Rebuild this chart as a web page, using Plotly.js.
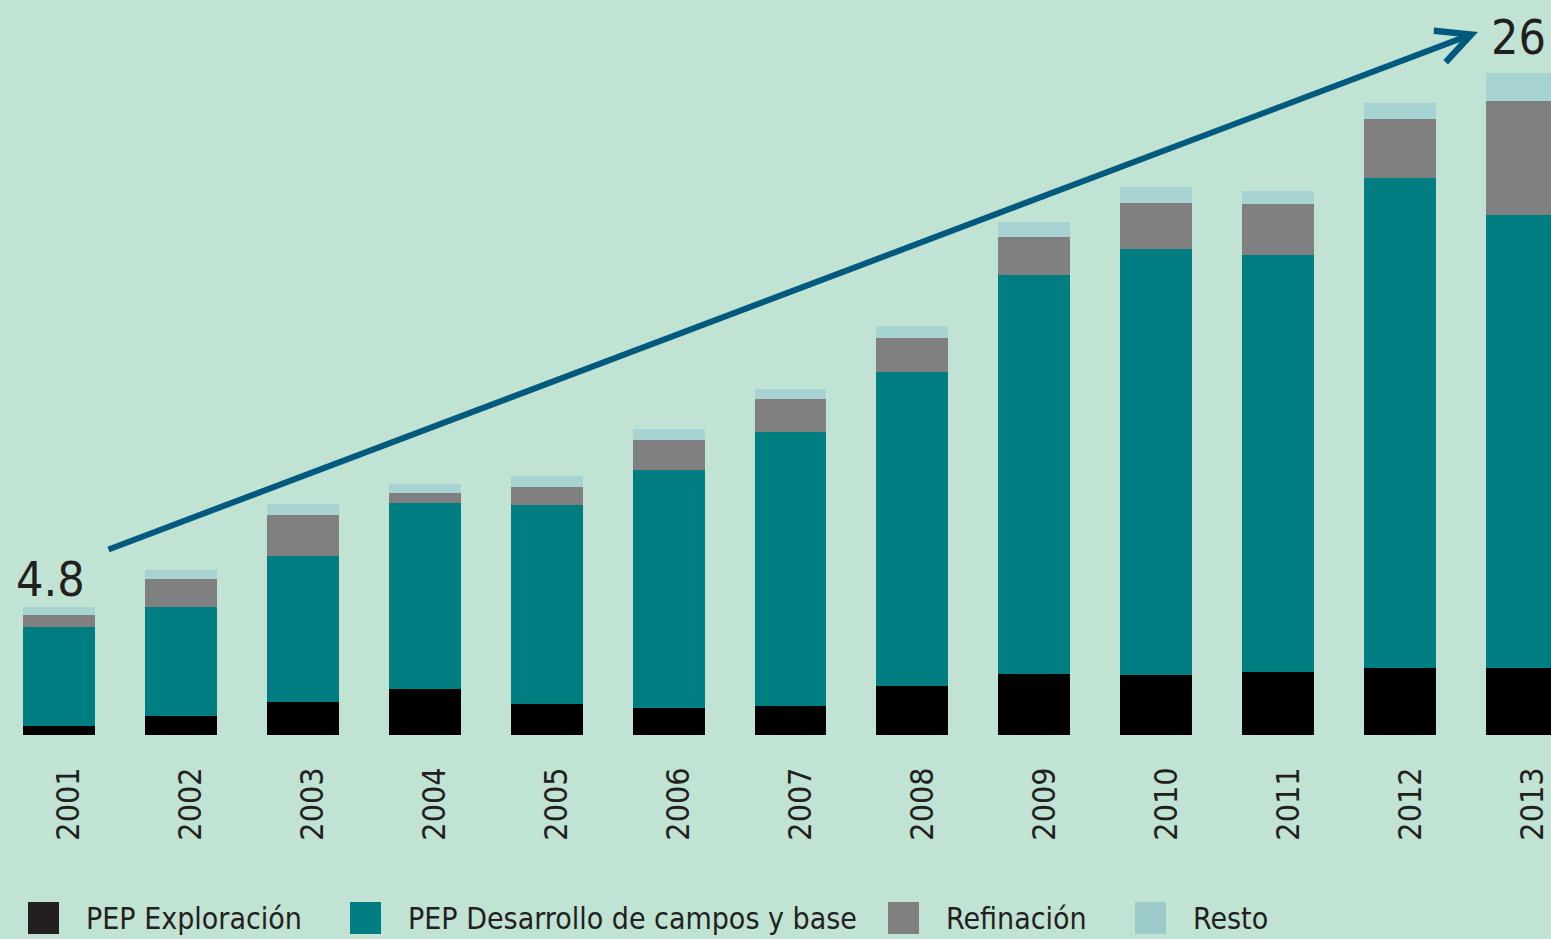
<!DOCTYPE html>
<html>
<head>
<meta charset="utf-8">
<script src="https://cdn.plot.ly/plotly-3.0.1.min.js"></script>
<style>
html,body{margin:0;padding:0;background:#c1e3d4;}
#chart{width:1551px;height:939px;}
</style>
</head>
<body>
<div id="chart"></div>
<script>
// ---- data ----
const years = ['2001','2002','2003','2004','2005','2006','2007','2008','2009','2010','2011','2012','2013'];
const exploracion = [0.34, 0.73, 1.31, 1.80, 1.22, 1.06, 1.14, 1.94, 2.40, 2.34, 2.48, 2.63, 2.63];
const desarrollo  = [3.90, 4.29, 5.74, 7.33, 7.82, 9.35, 10.78, 12.31, 15.66, 16.76, 16.38, 19.27, 17.82];
const refinacion  = [0.46, 1.12, 1.60, 0.39, 0.72, 1.18, 1.27, 1.34, 1.52, 1.82, 2.01, 2.29, 4.46];
const resto       = [0.33, 0.33, 0.42, 0.33, 0.42, 0.42, 0.42, 0.48, 0.58, 0.60, 0.49, 0.66, 1.09];
const seriesNames = ['PEP Exploración', 'PEP Desarrollo de campos y base', 'Refinación', 'Resto'];
const firstLabel = '4.8';
const lastLabel = '26';

// ---- styles ----
const BG = '#c1e3d4';
const colors = ['#000000', '#007d80', '#808080', '#a8d3d3'];
const legendColors = ['#231f20', '#007d80', '#808080', '#9ccacb'];
const FONT = '"Liberation Sans Narrow", "DejaVu Sans Condensed", sans-serif';
const TXT = '#231f20';

const seriesVals = [exploracion, desarrollo, refinacion, resto];
const traces = seriesVals.map((vals, k) => ({
  type: 'bar',
  x: years,
  y: vals,
  name: seriesNames[k],
  marker: {color: colors[k], line: {width: 0}},
  hoverinfo: 'skip',
  showlegend: false
}));

const totals = years.map((_, i) => seriesVals.reduce((s, v) => s + v[i], 0));
const lastIdx = years.length - 1;

// plot area in pixels: width 1551, height 735
const W = 1551, H = 735;
const px = x => x / W;
const py = y => 1 - y / H;

const annotations = [
  {xref: 'x', yref: 'y', x: 0, y: totals[0], text: firstLabel, showarrow: false,
   xanchor: 'center', yanchor: 'bottom', xshift: -8, yshift: -2,
   font: {family: FONT, size: 48, color: TXT}},
  {xref: 'x', yref: 'y', x: lastIdx, y: totals[lastIdx], text: lastLabel, showarrow: false,
   xanchor: 'center', yanchor: 'bottom', xshift: -4, yshift: 6,
   font: {family: FONT, size: 48, color: TXT}},
  // trend arrow
  {xref: 'paper', yref: 'paper', x: px(1478), y: py(32), text: '', showarrow: true,
   ax: 107 - 1478, ay: 550 - 32, arrowhead: 5, arrowsize: 1.1, arrowwidth: 6,
   arrowcolor: '#005a7e', standoff: 0}
];

// custom legend (large squares)
const legendX = [28, 350, 888, 1135];
const shapes = [];
seriesNames.forEach((n, k) => {
  shapes.push({type: 'rect', xref: 'paper', yref: 'paper',
    x0: px(legendX[k]), x1: px(legendX[k] + 31), y0: py(934), y1: py(902),
    fillcolor: legendColors[k], line: {width: 0}});
  annotations.push({xref: 'paper', yref: 'paper', x: px(legendX[k] + 56), y: py(918),
    text: n, showarrow: false, xanchor: 'left', yanchor: 'middle',
    font: {family: FONT, size: 30, color: TXT}});
});

const layout = {
  width: 1551, height: 939,
  margin: {l: 0, r: 0, t: 0, b: 204, pad: 0},
  paper_bgcolor: BG, plot_bgcolor: BG,
  barmode: 'stack',
  bargap: 0.41,
  showlegend: false,
  xaxis: {
    type: 'category',
    range: [-0.481, 12.235],
    showgrid: false, zeroline: false, showline: false,
    ticks: '', tickangle: -90,
    ticklabelshift: 10,
    ticklabelstandoff: 25,
    tickfont: {family: FONT, size: 32, color: TXT},
    fixedrange: true
  },
  yaxis: {
    range: [0, 28.88],
    visible: false,
    fixedrange: true
  },
  annotations: annotations,
  shapes: shapes
};

Plotly.newPlot('chart', traces, layout, {displayModeBar: false, staticPlot: true});
</script>
</body>
</html>
